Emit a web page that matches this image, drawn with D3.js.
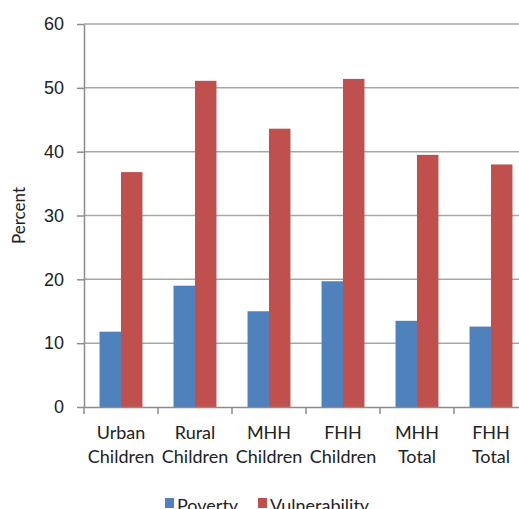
<!DOCTYPE html>
<html>
<head>
<meta charset="utf-8">
<script src="https://cdn.jsdelivr.net/npm/d3@7"></script>
<style>
  body { margin: 0; background: #fff; overflow: hidden; }
  svg { display: block; font-family: Lato, "Open Sans", sans-serif; }
</style>
</head>
<body>
<div id="plot"></div>
<script>
// chart values
var categories = ["Urban Children", "Rural Children", "MHH Children", "FHH Children", "MHH Total", "FHH Total"];
var poverty = [11.8, 19.0, 15.0, 19.7, 13.5, 12.6];
var vulnerability = [36.8, 51.1, 43.6, 51.4, 39.5, 38.0];
var seriesNames = ["Poverty", "Vulnerability"];
var yTicks = [0, 10, 20, 30, 40, 50, 60];

function colorSeries(name) {
  if (name == "Poverty") {
    return "#4f81bd";
  }
  else {
    return "#c0504d";
  }
}

var width = 519, height = 509;
var plotLeft = 84, plotRight = 528, plotTop = 24, plotBottom = 407;

var svg = d3.select("#plot")
  .append("svg")
  .attr("width", width)
  .attr("height", height);

var x0 = d3.scaleBand()
  .domain(categories)
  .range([plotLeft, plotRight])
  .padding(0);

var bw = x0.bandwidth();
var x1 = d3.scaleBand()
  .domain(seriesNames)
  .range([bw * 0.21, bw * 0.79])
  .padding(0);

var y = d3.scaleLinear()
  .domain([0, 60])
  .range([plotBottom, plotTop]);

// gridlines
svg.append("g")
  .selectAll("line")
  .data(yTicks.filter(function (d) { return d > 0; }))
  .enter().append("line")
  .attr("x1", plotLeft)
  .attr("x2", plotRight)
  .attr("y1", function (d) { return y(d); })
  .attr("y2", function (d) { return y(d); })
  .attr("stroke", "#a6a6a6")
  .attr("stroke-width", 1.5);

// y axis
var yAxis = svg.append("g")
  .attr("transform", "translate(" + plotLeft + ",0)")
  .call(d3.axisLeft(y).tickValues(yTicks).tickSize(7).tickPadding(13).tickSizeOuter(0));
yAxis.select(".domain").attr("stroke", "#8c8c8c").attr("stroke-width", 1.5);
yAxis.selectAll(".tick line").attr("stroke", "#8c8c8c").attr("stroke-width", 1.5);
yAxis.selectAll("text")
  .attr("fill", "#222")
  .style("font-size", "18px");

// bars
var rows = categories.map(function (c, i) {
  return { cat: c, Poverty: poverty[i], Vulnerability: vulnerability[i] };
});

svg.append("g")
  .selectAll("g")
  .data(rows)
  .enter().append("g")
  .attr("transform", function (d) { return "translate(" + x0(d.cat) + ",0)"; })
  .selectAll("rect")
  .data(function (d) {
    return seriesNames.map(function (s) { return { key: s, value: d[s] }; });
  })
  .enter().append("rect")
  .attr("x", function (d) { return x1(d.key); })
  .attr("y", function (d) { return y(d.value); })
  .attr("width", x1.bandwidth())
  .attr("height", function (d) { return y(0) - y(d.value); })
  .attr("fill", function (d) { return colorSeries(d.key); });

// x axis
var xAxis = svg.append("g")
  .attr("transform", "translate(0," + plotBottom + ")")
  .call(d3.axisBottom(x0).tickSize(0).tickFormat(""));
xAxis.select(".domain").attr("stroke", "#8c8c8c").attr("stroke-width", 1.5);

// tick marks between categories
svg.append("g")
  .selectAll("line")
  .data(categories)
  .enter().append("line")
  .attr("x1", function (d) { return x0(d); })
  .attr("x2", function (d) { return x0(d); })
  .attr("y1", plotBottom)
  .attr("y2", plotBottom + 7)
  .attr("stroke", "#8c8c8c")
  .attr("stroke-width", 1.5);

// two line category labels
var labels = svg.append("g")
  .selectAll("text")
  .data(categories)
  .enter().append("text")
  .attr("text-anchor", "middle")
  .attr("fill", "#222")
  .style("font-size", "18px");

labels.each(function (d) {
  var parts = d.split(" ");
  var cx = x0(d) + bw / 2;
  var t = d3.select(this);
  parts.forEach(function (p, i) {
    t.append("tspan")
      .attr("x", cx)
      .attr("y", 439 + i * 24)
      .text(p);
  });
});

// y title
svg.append("text")
  .attr("transform", "translate(25," + ((plotTop + plotBottom) / 2) + ") rotate(-90)")
  .attr("text-anchor", "middle")
  .attr("fill", "#222")
  .style("font-size", "17px")
  .text("Percent");

// legend
var legendX = [165, 258];
var legend = svg.append("g")
  .selectAll("g")
  .data(seriesNames)
  .enter().append("g")
  .attr("transform", function (d, i) { return "translate(" + legendX[i] + ",0)"; });

legend.append("rect")
  .attr("x", 0)
  .attr("y", 498)
  .attr("width", 9)
  .attr("height", 10)
  .attr("fill", function (d) { return colorSeries(d); });

legend.append("text")
  .attr("x", 12)
  .attr("y", 512)
  .attr("fill", "#222")
  .style("font-size", "18px")
  .text(function (d) { return d; });
</script>
</body>
</html>
